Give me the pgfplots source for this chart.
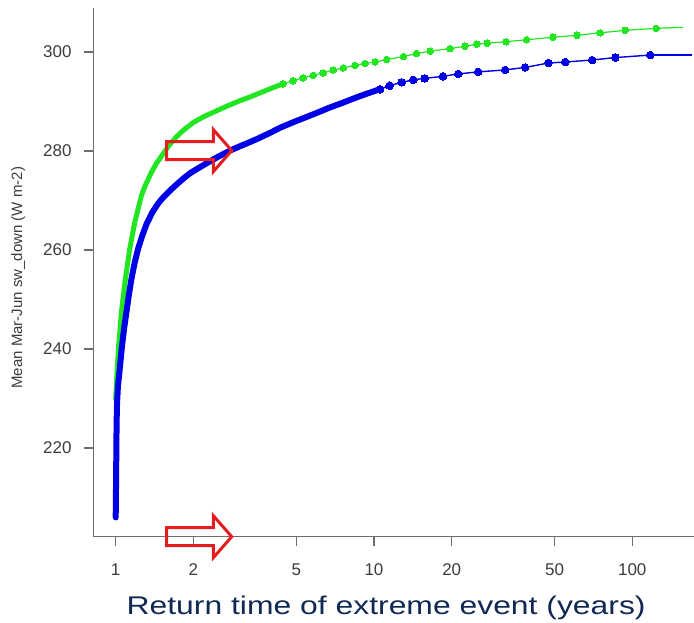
\documentclass[border=0pt]{standalone}
\usepackage{pgfplots}
\pgfplotsset{compat=1.18}
\usepackage{pgfplotstable}
\usepackage{fontspec}
\setmainfont{Liberation Sans}
\usepackage{graphicx}
\definecolor{rgreen}{RGB}{34,230,34}
\definecolor{rblue}{RGB}{0,0,230}
\definecolor{axgray}{RGB}{110,110,110}
\definecolor{labgray}{RGB}{60,60,60}
\definecolor{navy}{RGB}{16,40,84}
\definecolor{arrred}{RGB}{228,30,30}

\pgfplotstableread{
x y
1.000 230.0
1.010 234.5
1.027 240.7
1.052 247.4
1.090 254.1
1.133 260.2
1.185 265.6
1.258 271.0
1.300 273.0
1.375 275.7
1.437 277.5
1.520 279.3
1.600 281.0
1.700 282.6
1.800 283.9
1.900 284.9
2.000 285.8
2.200 287.0
2.450 288.1
2.700 289.1
3.000 290.1
3.300 290.9
3.800 292.2
4.100 292.9
4.450 293.6
}\greenthick

\pgfplotstableread{
x y
4.45 293.6
4.86 294.2
5.32 294.8
5.82 295.3
6.36 295.8
6.96 296.4
7.61 296.8
8.44 297.3
9.23 297.7
10.1 298.0
11.2 298.5
13.0 299.1
14.6 299.7
16.5 300.2
19.7 300.7
22.5 301.2
25.0 301.6
27.4 301.8
32.5 302.1
39.0 302.5
49.3 303.0
61.1 303.4
75.2 303.9
94.0 304.4
123.9 304.8
}\greendots

\pgfplotstableread{
x y
1.000 206.0
1.002 210.0
1.004 215.0
1.006 220.0
1.008 225.0
1.012 229.0
1.020 232.5
1.036 235.8
1.058 240.7
1.080 244.5
1.100 247.4
1.125 251.0
1.150 254.1
1.185 257.5
1.220 260.2
1.265 262.8
1.315 265.2
1.385 267.6
1.459 269.4
1.525 270.6
1.644 272.3
1.750 273.6
1.852 274.7
1.950 275.6
2.050 276.3
2.310 277.9
2.500 278.9
2.770 280.1
3.000 280.9
3.200 281.5
3.510 282.4
4.000 283.8
4.320 284.7
5.010 286.1
5.800 287.4
6.740 288.8
7.600 289.8
8.500 290.8
9.500 291.7
10.55 292.5
}\bluethick

\pgfplotstableread{
x y
10.55 292.5
11.5 293.2
12.8 293.9
14.2 294.4
15.7 294.7
18.5 295.1
21.2 295.6
25.3 296.0
32.2 296.4
38.5 296.9
47.4 297.8
55.0 298.0
69.9 298.4
86.0 298.9
117.4 299.4
}\bluedots

\begin{document}
\begin{tikzpicture}
\path[use as bounding box] (0,0) rectangle (694pt,622pt);
\begin{axis}[
  at={(93.3pt,85.3pt)}, anchor=south west,
  width=600.7pt, height=528.4pt, scale only axis,
  xmode=log, xmin=0.819, xmax=173.4, ymin=202.1, ymax=308.85,
  axis x line=bottom, axis y line=left,
  axis line style={-, axgray, line width=1.3pt},
  xtick={1,2,5,10,20,50,100}, xticklabels={1,2,5,10,20,50,100},
  ytick={220,240,260,280,300},
  xminorticks=false, yminorticks=false,
  tick align=outside, major tick length=9pt,
  tick style={axgray, line width=1.3pt},
  /pgf/number format/assume math mode=true,
  tick label style={font=\fontsize{17}{20}\selectfont, text=labgray},
  xticklabel style={anchor=north, inner sep=0pt},
  xticklabel shift=18pt,
  yticklabel style={anchor=east, inner sep=0pt},
  yticklabel shift=12.6pt,
  every axis y label/.style={at={(axis description cs:-0.1248,0.49)}, rotate=90, anchor=center},
  every axis x label/.style={at={(axis description cs:0.4875,-0.1474)}, anchor=base},
  ylabel={\fontsize{15}{18}\selectfont\color{labgray}Mean Mar-Jun sw\_down (W m-2)},
  xlabel={\scalebox{1.245}[1]{\fontsize{25.6}{30}\selectfont\color{navy}Return time of extreme event (years)}},
]
\addplot[rgreen, line width=5pt, line cap=round, line join=round] table {\greenthick};
\addplot[rgreen, line width=1.2pt, mark=*, mark size=3.3pt, mark options={solid, fill=rgreen, draw=rgreen, line width=0pt}] table {\greendots};
\addplot[rgreen, line width=1.2pt] coordinates {(123.9,304.8) (157,305.0)};
\addplot[rblue, line width=6pt, line cap=round, line join=round] table {\bluethick};
\addplot[rblue, line width=1.4pt, mark=*, mark size=3.8pt, mark options={solid, fill=rblue, draw=rblue, line width=0pt}] table {\bluedots};
\addplot[rblue, line width=1.4pt] coordinates {(117.4,299.4) (170,299.4)};
\coordinate (A1) at (axis cs:1.576,280.1);
\coordinate (A2) at (axis cs:1.576,202.1);
\end{axis}
\foreach \A in {A1,A2}{
\draw[arrred, line width=3pt, line join=miter, shift={(\A)}]
  (0pt,-9pt) -- (46.6pt,-9pt) -- (46.6pt,-21pt) -- (65pt,0pt) -- (46.6pt,21pt) -- (46.6pt,9pt) -- (0pt,9pt) -- cycle;
}
\end{tikzpicture}
\end{document}
